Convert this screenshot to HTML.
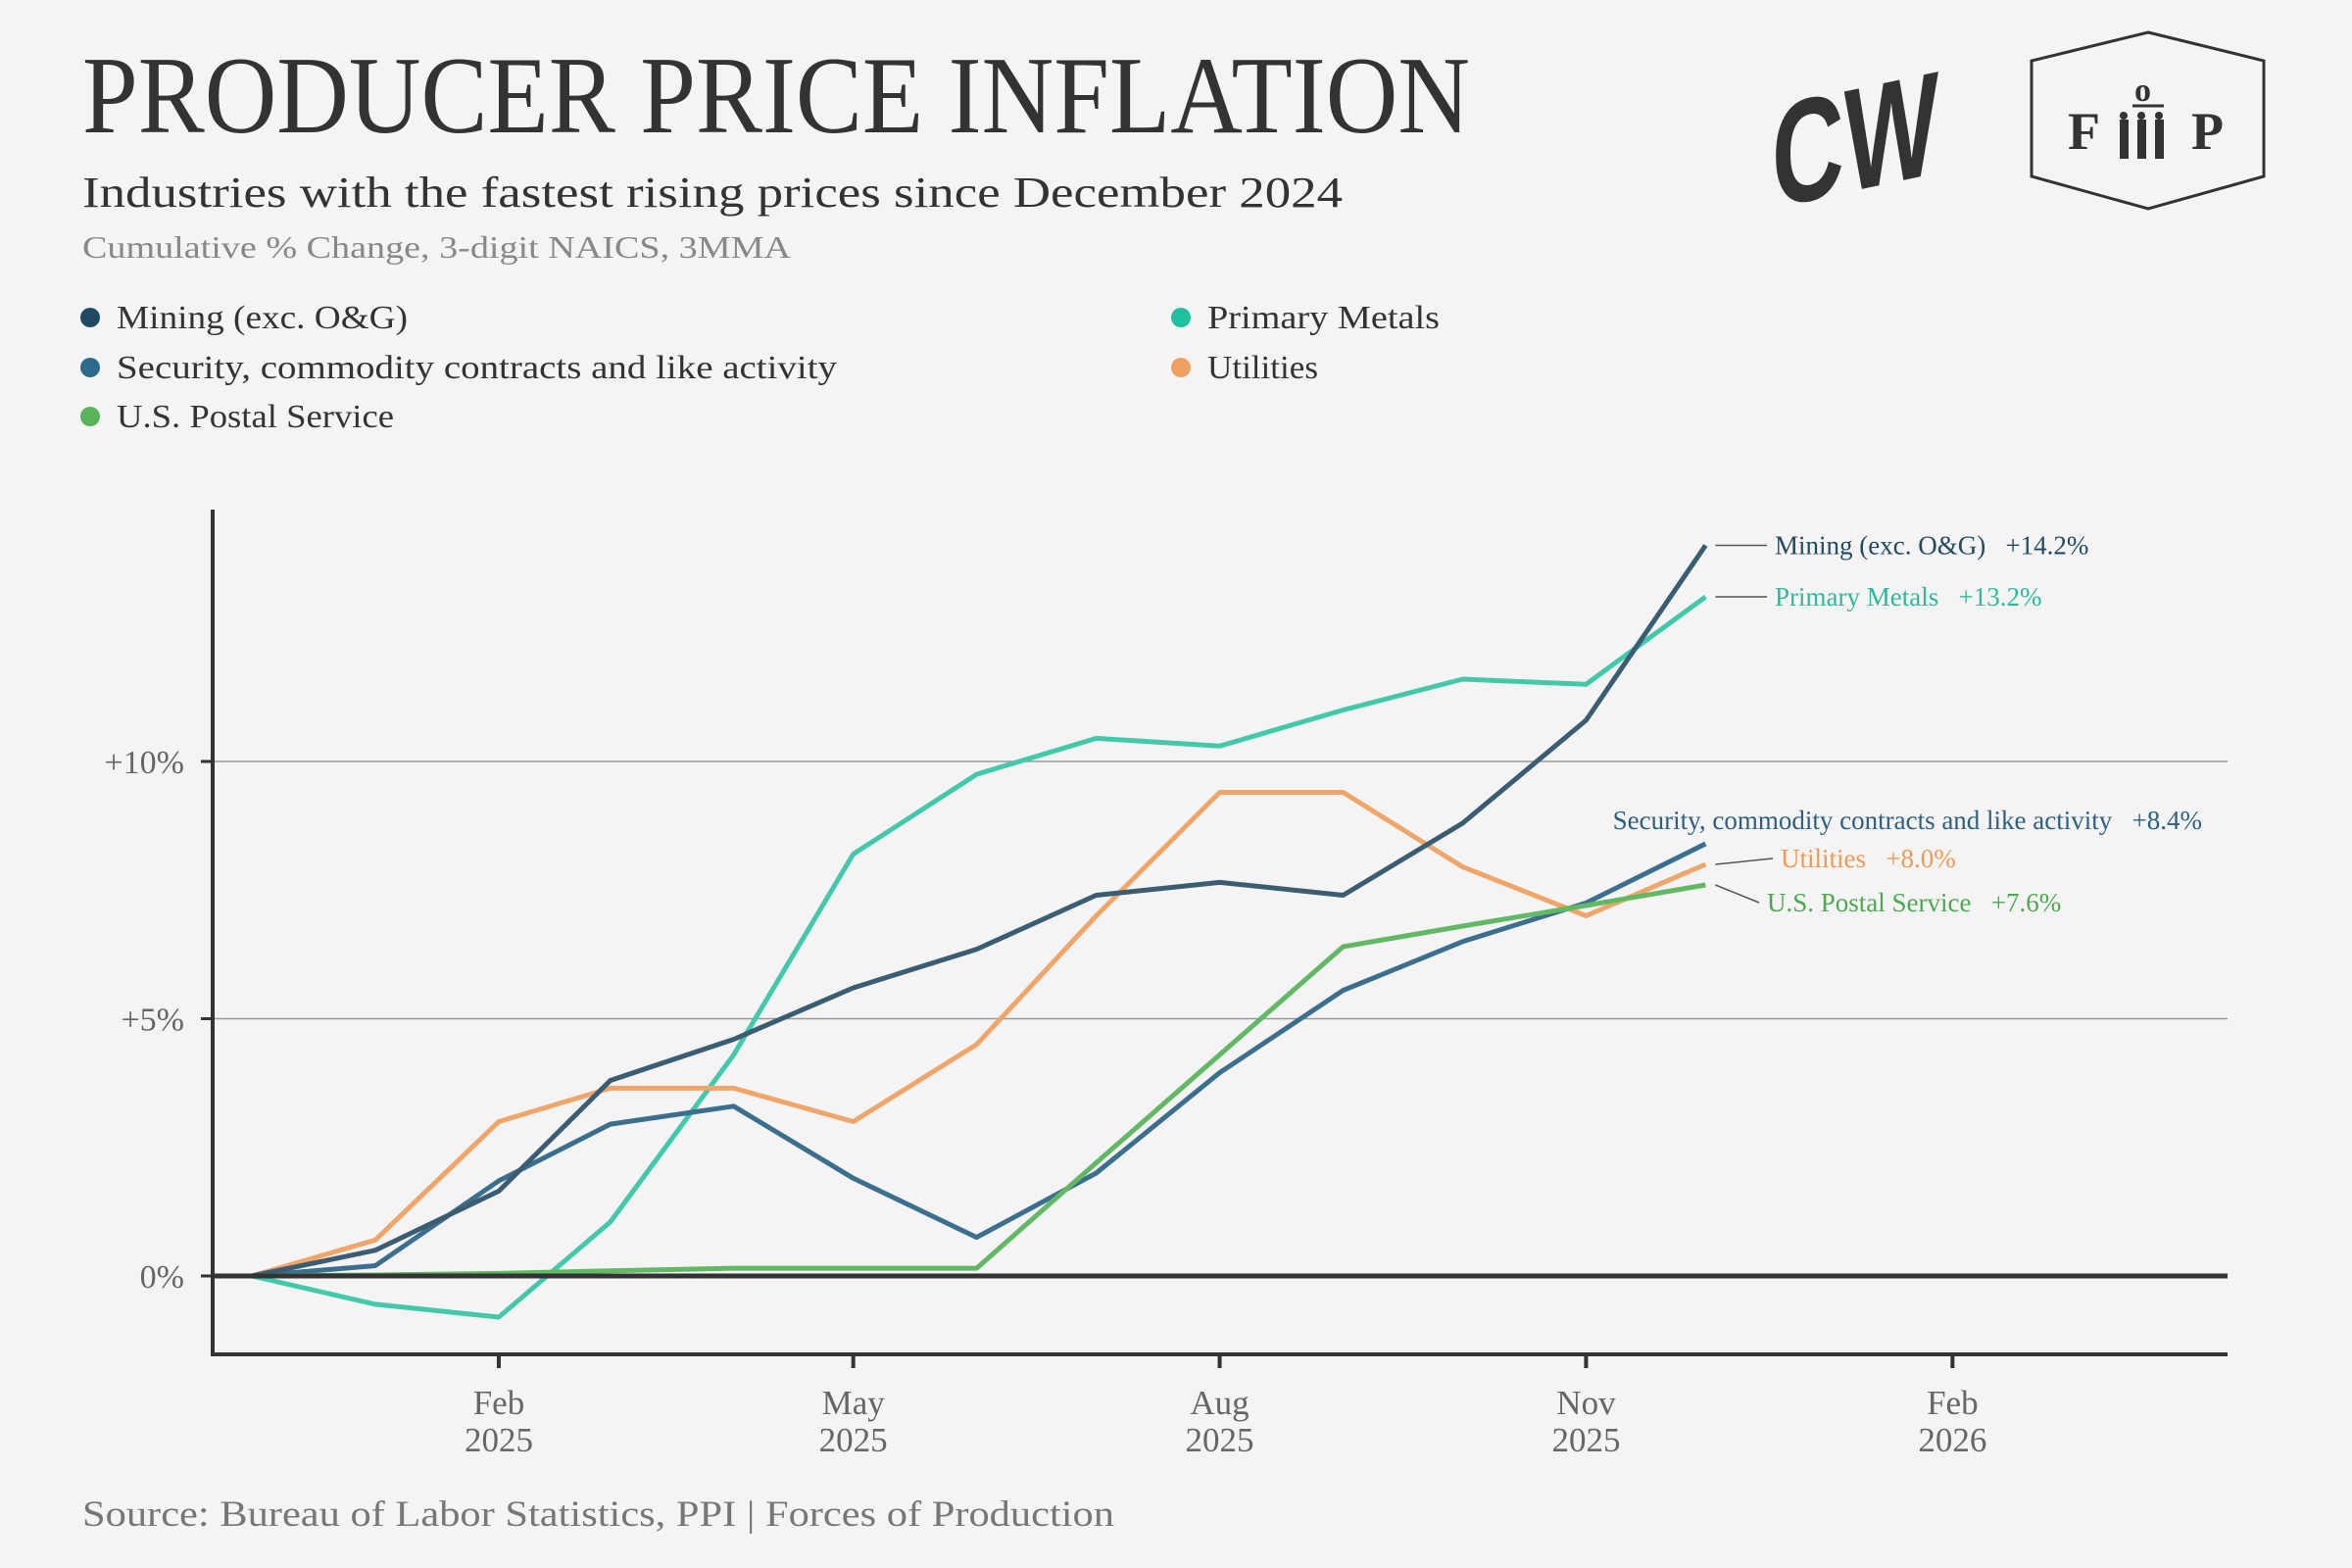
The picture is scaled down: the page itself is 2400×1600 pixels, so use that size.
<!DOCTYPE html>
<html><head><meta charset="utf-8"><style>
html,body{margin:0;padding:0;background:#f4f4f4;}
svg{display:block;font-family:"Liberation Serif",serif;}
</style></head><body>
<svg id="chart" width="2400" height="1600" viewBox="0 0 2400 1600" xmlns="http://www.w3.org/2000/svg">
<rect width="2400" height="1600" fill="#f4f4f4"/>
<text x="84" y="135" font-size="112" fill="#333" textLength="1416" lengthAdjust="spacingAndGlyphs">PRODUCER PRICE INFLATION</text>
<text x="84" y="211" font-size="44" fill="#333" textLength="1286" lengthAdjust="spacingAndGlyphs">Industries with the fastest rising prices since December 2024</text>
<text x="84" y="263" font-size="32" fill="#888" textLength="723" lengthAdjust="spacingAndGlyphs">Cumulative % Change, 3-digit NAICS, 3MMA</text>
<g>
<text x="1808" y="195" font-size="150" font-weight="bold" fill="#333" transform="skewY(-12)" style="transform-origin:1890px 130px" textLength="170" lengthAdjust="spacingAndGlyphs" font-family="Liberation Sans, sans-serif">CW</text>
</g>
<g>
<polygon points="2192,33 2310,62 2310,180 2192,213 2073,180 2073,62" fill="none" stroke="#333" stroke-width="3"/>
<text x="2110" y="152" font-size="54" font-weight="bold" fill="#333">F</text>
<text x="2178" y="103" font-size="34" font-weight="bold" fill="#333">o</text>
<line x1="2176" y1="108" x2="2208" y2="108" stroke="#333" stroke-width="3"/>
<text x="2236" y="152" font-size="54" font-weight="bold" fill="#333">P</text>
<g fill="#333"><rect x="2163" y="122" width="9" height="40"/><rect x="2181" y="122" width="9" height="40"/><rect x="2199" y="122" width="9" height="40"/><circle cx="2167" cy="118" r="4"/><circle cx="2185" cy="118" r="4"/><circle cx="2203" cy="118" r="4"/></g>
</g>
<g id="legend"></g>
<g id="plot"></g>
<text x="84" y="1557" font-size="37" fill="#777" textLength="1053" lengthAdjust="spacingAndGlyphs">Source: Bureau of Labor Statistics, PPI | Forces of Production</text>
</svg>
<script>
const months = ["2024-12","2025-01","2025-02","2025-03","2025-04","2025-05","2025-06","2025-07","2025-08","2025-09","2025-10","2025-11","2025-12"];
const mining = [0,0.5,1.65,3.8,4.6,5.6,6.35,7.4,7.65,7.4,8.8,10.8,14.2];
const primaryMetals = [0,-0.55,-0.8,1.05,4.3,8.2,9.75,10.45,10.3,11.0,11.6,11.5,13.2];
const security = [0,0.2,1.85,2.95,3.3,1.9,0.75,2.0,3.95,5.55,6.5,7.25,8.4];
const utilities = [0,0.7,3.0,3.65,3.65,3.0,4.5,7.0,9.4,9.4,7.95,7.0,8.0];
const postal = [0,0.02,0.05,0.1,0.15,0.15,0.15,2.2,4.3,6.4,6.8,7.2,7.6];
const yTicks = [0,5,10];
const yTickLabels = ["0%","+5%","+10%"];
const xTicks = ["2025-02","2025-05","2025-08","2025-11","2026-02"];
const xTickLabels = [["Feb","2025"],["May","2025"],["Aug","2025"],["Nov","2025"],["Feb","2026"]];

const NS="http://www.w3.org/2000/svg";
const base=Date.UTC(2024,11,1);
function xs(m){const [y,mo]=m.split("-").map(Number);const d=(Date.UTC(y,mo-1,1)-base)/86400000;return 257+d*4.064;}
function ys(v){return 1302-v*52.5;}
function mk(tag,attrs,parent){const e=document.createElementNS(NS,tag);for(const k in attrs)e.setAttribute(k,attrs[k]);parent.appendChild(e);return e;}
const plot=document.getElementById('plot');
const legend=document.getElementById('legend');

yTicks.forEach((t,i)=>{
  if(t!==0){const g=mk('line',{x1:217,x2:2273,y1:ys(t),y2:ys(t),stroke:'#999','stroke-width':1.5},plot);
  
  }
  const tk=mk('line',{x1:205,x2:217,y1:ys(t),y2:ys(t),stroke:'#333','stroke-width':3},plot);
  
  
  const lb=mk('text',{x:188,y:ys(t)+12,'font-size':34,fill:'#666','text-anchor':'end'},plot);
  lb.textContent=yTickLabels[i];
  
  
});
const ya=mk('line',{x1:217,x2:217,y1:520,y2:1384,stroke:'#333','stroke-width':4},plot);


const xa=mk('line',{x1:215,x2:2273,y1:1382,y2:1382,stroke:'#333','stroke-width':4},plot);


xTicks.forEach((m,i)=>{
  const x=xs(m);
  const t=mk('line',{x1:x,x2:x,y1:1382,y2:1396,stroke:'#333','stroke-width':4},plot);
  
  
  xTickLabels[i].forEach((s,j)=>{
    const lb=mk('text',{x:x,y:1443+j*38,'font-size':35,fill:'#666','text-anchor':'middle'},plot);
    lb.textContent=s;
    
    
  });
});

const series=[
 {name:'Primary Metals',vals:primaryMetals,color:'#43c9aa',id:'primary-metals'},
 {name:'Utilities',vals:utilities,color:'#f0a66a',id:'utilities'},
 {name:'Security, commodity contracts and like activity',vals:security,color:'#3c6f8e',id:'security'},
 {name:'Mining (exc. O&G)',vals:mining,color:'#3a5d72',id:'mining'},
 {name:'U.S. Postal Service',vals:postal,color:'#63b865',id:'postal'}
];
series.forEach(s=>{
  const pts=s.vals.map((v,i)=>xs(months[i]).toFixed(1)+','+ys(v).toFixed(1)).join(' ');
  const p=mk('polyline',{points:pts,fill:'none',stroke:s.color,'stroke-width':5,'stroke-linejoin':'round'},plot);
  
  
});
const z=mk('line',{x1:217,x2:2273,y1:ys(0),y2:ys(0),stroke:'#333','stroke-width':5},plot);



const endLabels=[
 {s:'mining',text:'Mining (exc. O&G)',col:'#244a60',dy:0,lx:1811,anchor:'start',lead:true},
 {s:'primary-metals',text:'Primary Metals',col:'#2fb89a',dy:0,lx:1811,anchor:'start',lead:true},
 {s:'security',text:'Security, commodity contracts and like activity',col:'#2e5f80',dy:-24,lx:2247,anchor:'end',lead:false},
 {s:'utilities',text:'Utilities',col:'#ee9a55',dy:-6,lx:1817,anchor:'start',lead:true},
 {s:'postal',text:'U.S. Postal Service',col:'#4ea852',dy:18,lx:1803,anchor:'start',lead:true}
];
endLabels.forEach(l=>{
  const s=series.find(q=>q.id===l.s);
  const last=s.vals[s.vals.length-1];
  const x0=xs(months[months.length-1]), y0=ys(last), ly=y0+l.dy;
  if(l.lead){
    const ld=mk('line',{x1:x0+10,y1:y0,x2:l.lx-8,y2:ly,stroke:'#555','stroke-width':1.5},plot);
    
    
  }
  const t=mk('text',{x:l.lx,y:ly+9,'font-size':27,fill:l.col,'text-anchor':l.anchor},plot);
  t.textContent=l.text+'\u00a0\u00a0\u00a0+'+last.toFixed(1)+'%';
  
  
});

const legItems=[
 {t:'Mining (exc. O&G)',c:'#1f4a62',x:92,y:324,w:297},
 {t:'Security, commodity contracts and like activity',c:'#2e6a8c',x:92,y:375,w:735},
 {t:'U.S. Postal Service',c:'#57b45a',x:92,y:425,w:283},
 {t:'Primary Metals',c:'#1fc0a0',x:1205,y:324,w:237},
 {t:'Utilities',c:'#f0a060',x:1205,y:375,w:113}
];
legItems.forEach(it=>{
  const g=mk('g',{},legend);
  
  
  mk('circle',{cx:it.x,cy:it.y,r:10,fill:it.c},g);
  const t=mk('text',{x:it.x+27,y:it.y+11,'font-size':34,fill:'#333',textLength:it.w,lengthAdjust:'spacingAndGlyphs'},g);
  t.textContent=it.t;
});
</script>
</body></html>
